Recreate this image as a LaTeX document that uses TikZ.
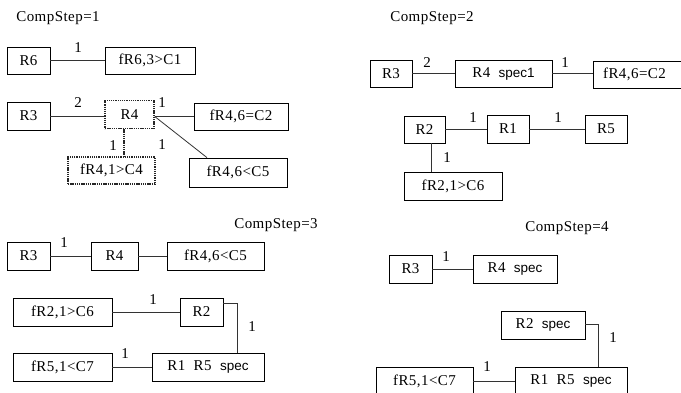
\documentclass[tikz,border=0pt]{standalone}
\usepackage{fontspec}
\setmainfont[LetterSpace=3]{Liberation Serif}
\newfontfamily\specfont{Liberation Sans}
\usetikzlibrary{calc}
\tikzset{
  box/.style={draw=black, line width=0.8pt, inner sep=0pt, minimum height=27pt, font=\fontsize{15}{15}\selectfont, text=black},
  dotbox/.style={box, draw=black!85, line width=1.5pt, dash pattern=on 1.3pt off 0.9pt},
  conn/.style={draw=black!80, line width=0.8pt},
  dotconn/.style={draw=black!85, line width=1.5pt, dash pattern=on 1.3pt off 0.9pt},
  lab/.style={inner sep=0pt, font=\fontsize{15}{15}\selectfont, text=black},
  title/.style={inner sep=0pt, font=\fontsize{15}{15}\selectfont, text=black}
}
\newcommand{\specw}{\specfont\fontsize{13.5}{13.5}\selectfont spec}
\begin{document}
\begin{tikzpicture}[x=1pt,y=-1pt]
\useasboundingbox (0,0) rectangle (681,392);
\clip (0,0) rectangle (681,392);
% ---------- Step 1
\node[title] (t1) at (58,18) {CompStep=1};
\node[box, minimum width=43pt] (R6a) at (28.5,60.5) {R6};
\node[box, minimum width=90pt] (C1a) at (150,60.5) {fR6,3>C1};
\draw[conn] (R6a) -- (C1a);
\node[lab] (l1a) at (78,48) {1};
\node[box, minimum width=43pt, minimum height=28pt] (R3a) at (28.5,116) {R3};
\node[dotbox, minimum width=49pt, minimum height=28pt] (R4a) at (129.5,114.5) {R4};
\node[box, minimum width=94pt] (C2a) at (241,116.5) {fR4,6=C2};
\node[box, minimum width=98pt, minimum height=29pt] (C5a) at (238,172.5) {fR4,6<C5};
\node[dotbox, minimum width=87pt] (C4a) at (111.5,170.5) {fR4,1>C4};
\draw[conn] (R3a.east) -- (R4a.west |- R3a.east);
\draw[conn] (R4a.east |- C2a.west) -- (C2a.west);
\coordinate (d5) at ($(C5a.north)+(-31,0)$);
\draw[conn] (R4a.east |- C2a.west) -- (d5);
\coordinate (d4) at ($(R4a.south)+(-5.5,0)$);
\draw[dotconn] (d4) -- (d4 |- C4a.north);
\node[lab] (l2a) at (78,103) {2};
\node[lab] (l3a) at (162,103) {1};
\node[lab] (l4a) at (162,145) {1};
\node[lab] (l5a) at (113,146) {1};
% ---------- Step 2
\node[title] (t2) at (432,18) {CompStep=2};
\node[box, minimum width=42pt] (R3b) at (391,73.5) {R3};
\node[box, minimum width=97pt] (R4b) at (503.5,73.5) {R4\ \ \specw1};
\node[box, minimum width=95pt] (C2b) at (640.5,74.5) {\hspace*{-12pt}fR4,6=C2};
\draw[conn] (R3b) -- (R4b);
\draw[conn] (R4b.east) -- (R4b.east -| C2b.west);
\node[lab] (l1b) at (427,63) {2};
\node[lab] (l2b) at (565,63) {1};
\node[box, minimum width=41pt] (R2b) at (424.5,129.5) {R2};
\node[box, minimum width=42pt, minimum height=28pt] (R1b) at (508,129) {R1};
\node[box, minimum width=42pt, minimum height=28pt] (R5b) at (606,129) {R5};
\node[box, minimum width=98pt, minimum height=28pt] (C6b) at (453,186) {fR2,1>C6};
\draw[conn] (R2b.east) -- (R1b.west |- R2b.east);
\draw[conn] (R1b.east |- R2b.east) -- (R5b.west |- R2b.east);
\coordinate (d6) at ($(R2b.south)+(6.5,0)$);
\draw[conn] (d6) -- (d6 |- C6b.north);
\node[lab] (l3b) at (473,118) {1};
\node[lab] (l4b) at (558,118) {1};
\node[lab] (l5b) at (447,158) {1};
% ---------- Step 3
\node[title] (t3) at (276,225) {CompStep=3};
\node[box, minimum width=43pt, minimum height=28pt] (R3c) at (28.5,256) {R3};
\node[box, minimum width=47pt, minimum height=28pt] (R4c) at (114.5,256) {R4};
\node[box, minimum width=97pt, minimum height=28pt] (C5c) at (215.5,256) {fR4,6<C5};
\draw[conn] (R3c) -- (R4c);
\draw[conn] (R4c) -- (C5c);
\node[lab] (l1c) at (64,243) {1};
\node[box, minimum width=99pt, minimum height=28pt] (C6c) at (62.5,312) {fR2,1>C6};
\node[box, minimum width=43pt, minimum height=28pt] (R2c) at (201.5,312) {R2};
\draw[conn] (C6c) -- (R2c);
\node[lab] (l2c) at (153,300) {1};
\node[box, minimum width=99pt, minimum height=28pt] (C7c) at (62.5,367) {fR5,1<C7};
\node[box, minimum width=112pt, minimum height=28pt] (R15c) at (208,367) {R1\ \ R5\ \ \specw};
\draw[conn] (C7c) -- (R15c);
\node[lab] (l3c) at (125,354) {1};
\coordinate (e3) at ($(R2c.east)+(0,-9)$);
\coordinate (k3) at (237,303);
\draw[conn] (e3) -- (k3) -- (k3 |- R15c.north);
\node[lab] (l4c) at (252,327) {1};
% ---------- Step 4
\node[title] (t4) at (567,228) {CompStep=4};
\node[box, minimum width=43pt, minimum height=28pt] (R3d) at (410.5,269) {R3};
\node[box, minimum width=84pt, minimum height=28pt] (R4d) at (515,269) {R4\ \ \specw};
\draw[conn] (R3d) -- (R4d);
\node[lab] (l1d) at (446,257) {1};
\node[box, minimum width=84pt, minimum height=28pt] (R2d) at (543,325) {R2\ \ \specw};
\node[box, minimum width=97pt, minimum height=28pt] (C7d) at (424.5,381) {fR5,1<C7};
\node[box, minimum width=112pt, minimum height=28pt] (R15d) at (571,381) {R1\ \ R5\ \ \specw};
\draw[conn] (C7d) -- (R15d);
\node[lab] (l2d) at (487,367) {1};
\coordinate (e4) at ($(R2d.east)+(0,-1)$);
\coordinate (k4) at (598,324);
\draw[conn] (e4) -- (k4) -- (k4 |- R15d.north);
\node[lab] (l3d) at (613,338) {1};
\end{tikzpicture}
\end{document}
